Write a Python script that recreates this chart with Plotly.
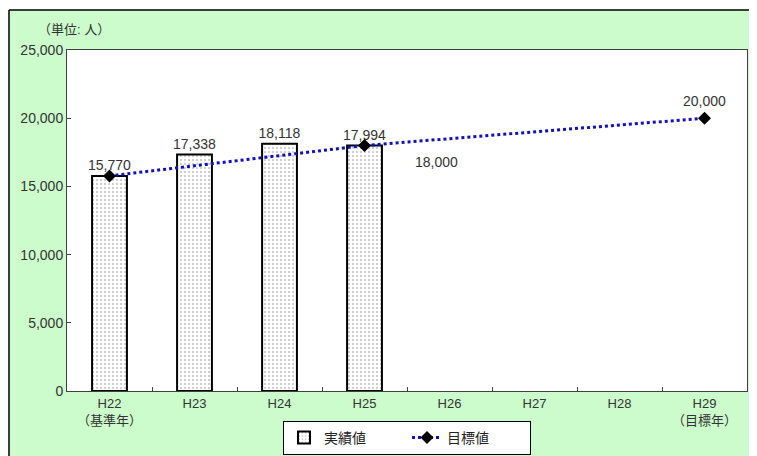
import plotly.graph_objects as go

categories = ["H22", "H23", "H24", "H25", "H26", "H27", "H28", "H29"]
tick_labels = ["H22<br>（基準年）", "H23", "H24", "H25", "H26", "H27", "H28", "H29<br>（目標年）"]
actual_values = [15770, 17338, 18118, 17994, None, None, None, None]
target_categories = ["H22", "H25", "H29"]
target_values = [15770, 18000, 20000]

FONT = "Liberation Sans, Noto Sans CJK JP, sans-serif"

fig = go.Figure()
fig.add_trace(go.Bar(
    x=categories, y=actual_values, name="実績値",
    width=0.41,
    marker=dict(color="white", line=dict(color="black", width=2),
                pattern=dict(shape=".", fgcolor="#808080", bgcolor="white", size=4, solidity=0.2)),
    text=[f"{v:,}" if v is not None else "" for v in actual_values],
    textposition="outside", cliponaxis=False, constraintext="none",
    textfont=dict(size=14, color="#333333", family=FONT),
))
fig.add_trace(go.Scatter(
    x=target_categories, y=target_values, name="目標値",
    mode="lines+markers",
    line=dict(color="#1010c0", width=3, dash="dot"),
    marker=dict(symbol="diamond", size=10, color="black"),
    cliponaxis=False,
))

annotations = [
    dict(text="（単位: 人）", xref="paper", yref="paper", x=-0.045, y=1.06,
         xanchor="left", yanchor="middle", showarrow=False,
         font=dict(size=13, color="#333333", family=FONT)),
    dict(text=f"{target_values[1]:,}", x=target_categories[1], y=target_values[1],
         xanchor="left", yanchor="middle", xshift=48, yshift=-17, showarrow=False,
         font=dict(size=14, color="#333333", family=FONT)),
    dict(text=f"{target_values[2]:,}", x=target_categories[2], y=target_values[2],
         xanchor="center", yanchor="bottom", yshift=7, showarrow=False,
         font=dict(size=14, color="#333333", family=FONT)),
]

# The page body adds an 8px offset, so the figure is 8px smaller than the window.
fig.update_layout(
    width=749, height=448,
    margin=dict(l=59, r=10, t=42, b=65, autoexpand=False),
    paper_bgcolor="#ccfccc",
    plot_bgcolor="white",
    font=dict(family=FONT, size=13, color="#333333"),
    showlegend=True,
    legend=dict(orientation="h", x=0.5, xanchor="center",
                yref="container", y=1 - 430 / 448, yanchor="middle",
                bgcolor="white", bordercolor="black", borderwidth=1,
                font=dict(size=14, color="#222222", family=FONT),
                entrywidth=78, traceorder="normal", tracegroupgap=0),
    xaxis=dict(categoryorder="array", categoryarray=categories,
               tickmode="array", tickvals=categories, ticktext=tick_labels,
               showline=True, linecolor="#404040", linewidth=1, mirror=True,
               ticks="inside", ticklen=4, tickcolor="#404040",
               tickson="boundaries", showgrid=False, automargin=False,
               tickfont=dict(size=13, color="#333333", family=FONT)),
    yaxis=dict(range=[0, 25000], dtick=5000, tickformat=",d",
               showline=True, linecolor="#404040", linewidth=1, mirror=True,
               ticks="inside", ticklen=4, tickcolor="#404040",
               showgrid=False, zeroline=False, automargin=False,
               tickfont=dict(size=14, color="#333333", family=FONT)),
    shapes=[
        dict(type="rect", xref="paper", yref="paper", x0=-0.2, x1=1.2, y0=1.1173, y1=1.3,
             fillcolor="white", line=dict(width=0), layer="above"),
        dict(type="rect", xref="paper", yref="paper", x0=-0.2, x1=-0.0853, y0=-0.3, y1=1.3,
             fillcolor="white", line=dict(width=0), layer="above"),
        dict(type="line", xref="paper", yref="paper", x0=-0.0853, x1=1.2, y0=1.1173, y1=1.1173,
             line=dict(color="black", width=1.5), layer="above"),
        dict(type="line", xref="paper", yref="paper", x0=-0.0853, x1=-0.0853, y0=-0.3, y1=1.1173,
             line=dict(color="black", width=1.5), layer="above"),
    ],
    annotations=annotations,
)

fig.write_html("out.html")
